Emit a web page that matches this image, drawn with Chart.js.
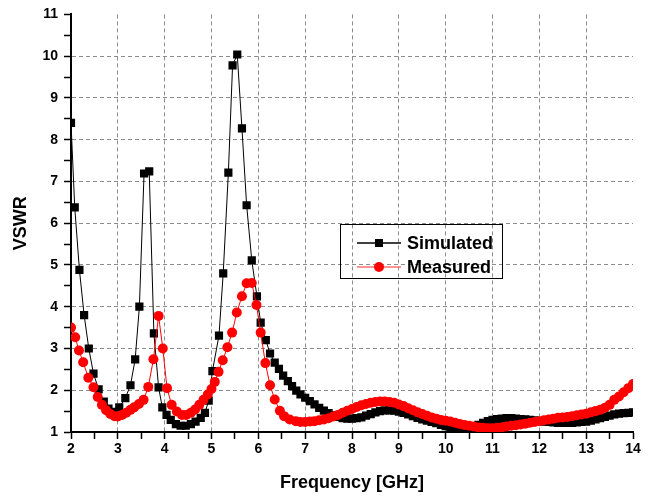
<!DOCTYPE html>
<html>
<head>
<meta charset="utf-8">
<script src="https://cdn.jsdelivr.net/npm/chart.js@4"></script>
<style>
  html, body { margin: 0; padding: 0; background: #fff; }
  #wrap { width: 653px; height: 498px; }
</style>
</head>
<body>
<div id="wrap"><canvas id="ChartVswr" width="653" height="498"></canvas></div>
<script>
// simulated VSWR, frequency in GHz
const simFreq = [2.0, 2.08, 2.18, 2.28, 2.38, 2.48, 2.59, 2.70, 2.80, 2.91, 3.03, 3.16, 3.27, 3.37, 3.46, 3.56, 3.67, 3.77, 3.87, 3.95,
    4.04, 4.13, 4.24, 4.34, 4.45, 4.56, 4.66, 4.77, 4.86, 4.94, 5.02, 5.16, 5.25, 5.36, 5.45, 5.55, 5.65, 5.75, 5.86, 5.97,
    6.05, 6.16, 6.25, 6.35, 6.44, 6.53, 6.63, 6.72, 6.81, 6.90,
    7.0, 7.1, 7.2, 7.3, 7.4, 7.5, 7.6, 7.7, 7.8, 7.9, 8.0, 8.1, 8.2, 8.3, 8.4, 8.5, 8.6, 8.7, 8.8, 8.9,
    9.0, 9.1, 9.2, 9.3, 9.4, 9.5, 9.6, 9.7, 9.8, 9.9, 10.0, 10.1, 10.2, 10.3, 10.4, 10.5, 10.6, 10.7, 10.8, 10.9,
    11.0, 11.1, 11.2, 11.3, 11.4, 11.5, 11.6, 11.7, 11.8, 11.9, 12.0, 12.1, 12.2, 12.3, 12.4, 12.5, 12.6, 12.7, 12.8, 12.9,
    13.0, 13.1, 13.2, 13.3, 13.4, 13.5, 13.6, 13.7, 13.8, 13.9, 14.0];
const simVswr = [8.40, 6.38, 4.88, 3.80, 3.00, 2.40, 2.02, 1.73, 1.56, 1.48, 1.59, 1.81, 2.12, 2.74, 4.00, 7.19, 7.24, 3.36, 2.07, 1.59,
    1.41, 1.29, 1.19, 1.15, 1.15, 1.19, 1.25, 1.34, 1.46, 1.75, 2.46, 3.31, 4.80, 7.21, 9.78, 10.04, 8.27, 6.43, 5.11, 4.25,
    3.62, 3.20, 2.88, 2.66, 2.51, 2.35, 2.22, 2.10, 1.99, 1.90,
    1.82, 1.74, 1.66, 1.58, 1.51, 1.45, 1.40, 1.36, 1.33, 1.32, 1.32, 1.33, 1.35, 1.39, 1.43, 1.47, 1.50, 1.52, 1.52, 1.51,
    1.49, 1.46, 1.42, 1.38, 1.34, 1.30, 1.27, 1.24, 1.21, 1.17, 1.14, 1.12, 1.10, 1.08, 1.07, 1.08, 1.12, 1.17, 1.22, 1.26,
    1.29, 1.31, 1.32, 1.33, 1.33, 1.32, 1.31, 1.30, 1.29, 1.28, 1.26, 1.25, 1.24, 1.23, 1.22, 1.22, 1.22, 1.22, 1.23, 1.24,
    1.25, 1.27, 1.30, 1.33, 1.36, 1.39, 1.42, 1.44, 1.45, 1.46, 1.47];

// measured VSWR
const measFreq = [2.0, 2.09, 2.17, 2.26, 2.37, 2.48, 2.57, 2.66, 2.75, 2.84, 2.93, 3.0, 3.09, 3.18, 3.27, 3.35, 3.45, 3.55, 3.65, 3.76,
    3.87, 3.96, 4.05, 4.15, 4.26, 4.37, 4.46, 4.56, 4.65, 4.74, 4.83, 4.92, 5.0, 5.07, 5.15, 5.24, 5.34, 5.44, 5.54, 5.65,
    5.75, 5.86, 5.96, 6.05, 6.15, 6.25, 6.35, 6.46, 6.55, 6.67, 6.8, 6.9,
    7.0, 7.1, 7.2, 7.3, 7.4, 7.5, 7.6, 7.7, 7.8, 7.9, 8.0, 8.1, 8.2, 8.3, 8.4, 8.5, 8.6, 8.7, 8.8, 8.9,
    9.0, 9.1, 9.2, 9.3, 9.4, 9.5, 9.6, 9.7, 9.8, 9.9, 10.0, 10.1, 10.2, 10.3, 10.4, 10.5, 10.6, 10.7, 10.8, 10.9,
    11.0, 11.1, 11.2, 11.3, 11.4, 11.5, 11.6, 11.7, 11.8, 11.9, 12.0, 12.1, 12.2, 12.3, 12.4, 12.5, 12.6, 12.7, 12.8, 12.9,
    13.0, 13.1, 13.2, 13.3, 13.4, 13.5, 13.6, 13.7, 13.8, 13.9, 14.0];
const measVswr = [3.50, 3.27, 2.95, 2.67, 2.30, 2.07, 1.84, 1.65, 1.52, 1.43, 1.38, 1.37, 1.41, 1.46, 1.53, 1.59, 1.67, 1.77, 2.08, 2.74,
    3.78, 3.00, 2.05, 1.65, 1.49, 1.41, 1.41, 1.46, 1.54, 1.65, 1.77, 1.90, 2.03, 2.20, 2.44, 2.72, 3.03, 3.38, 3.86, 4.25,
    4.56, 4.57, 4.04, 3.38, 2.65, 2.12, 1.78, 1.51, 1.38, 1.30, 1.26, 1.24,
    1.24, 1.25, 1.26, 1.28, 1.30, 1.33, 1.37, 1.41, 1.46, 1.51, 1.55, 1.60, 1.64, 1.67, 1.70, 1.72, 1.73, 1.73, 1.72, 1.70,
    1.66, 1.62, 1.57, 1.52, 1.47, 1.43, 1.39, 1.35, 1.32, 1.29, 1.27, 1.25, 1.22, 1.19, 1.17, 1.15, 1.13, 1.11, 1.10, 1.09,
    1.09, 1.10, 1.11, 1.13, 1.15, 1.16, 1.18, 1.20, 1.22, 1.24, 1.26, 1.28, 1.30, 1.32, 1.34, 1.35, 1.36, 1.38, 1.40, 1.42,
    1.44, 1.47, 1.50, 1.53, 1.58, 1.65, 1.77, 1.85, 1.95, 2.05, 2.15];

const seriesNames = ["Simulated", "Measured"];
const xRange = [2, 14];
const yRange = [1, 11];

const FONT = "'Liberation Sans', Arial, sans-serif";

function toPoints(xs, ys) {
    let pts = [];
    for (let i = 0; i < xs.length; i++) {
        pts.push({x: xs[i], y: ys[i]});
    }
    return pts;
}

// grid only on inner integer values, ticks on every half step
function gridColor(ctx, range) {
    let v = ctx.tick ? ctx.tick.value : null;
    if (v === null) return 'rgba(0,0,0,0)';
    if (Math.abs(v - Math.round(v)) > 0.01) return 'rgba(0,0,0,0)';
    if (v <= range[0] || v >= range[1]) return 'rgba(0,0,0,0)';
    return '#8c8c8c';
}

function intLabel(value) {
    return Math.abs(value - Math.round(value)) < 0.01 ? String(Math.round(value)) : '';
}

const legendBox = {
    id: 'legendBox',
    afterDraw(chart) {
        const ctx = chart.ctx;
        ctx.save();
        ctx.strokeStyle = '#000';
        ctx.lineWidth = 1;
        ctx.strokeRect(340.5, 224.5, 162, 54);
        const rows = [243, 267];
        chart.data.datasets.forEach((ds, i) => {
            const y = rows[i];
            ctx.strokeStyle = i === 0 ? '#000' : '#ff7070';
            ctx.lineWidth = 1.5;
            ctx.beginPath();
            ctx.moveTo(357, y);
            ctx.lineTo(401, y);
            ctx.stroke();
            ctx.fillStyle = ds.pointBackgroundColor;
            if (i === 0) {
                ctx.fillRect(375, y - 4, 8, 8);
            } else {
                ctx.beginPath();
                ctx.arc(379, y, 5, 0, Math.PI * 2);
                ctx.fill();
            }
            ctx.fillStyle = '#000';
            ctx.font = 'bold 18px ' + FONT;
            ctx.textBaseline = 'middle';
            ctx.textAlign = 'left';
            ctx.fillText(ds.label, 407, y + 1);
        });
        ctx.restore();
    }
};

var myChart = new Chart(document.getElementById('ChartVswr').getContext('2d'), {
    type: 'line',
    data: {
        datasets: [{
            label: seriesNames[0],
            data: toPoints(simFreq, simVswr),
            borderColor: '#000',
            borderWidth: 1,
            pointStyle: 'rect',
            pointRadius: 5.8,
            pointBackgroundColor: '#000',
            pointBorderWidth: 0,
            tension: 0,
            order: 1
        }, {
            label: seriesNames[1],
            data: toPoints(measFreq, measVswr),
            borderColor: '#ff0000',
            borderWidth: 1,
            pointStyle: 'circle',
            pointRadius: 5,
            pointBackgroundColor: '#ff0000',
            pointBorderWidth: 0,
            tension: 0,
            order: 0
        }]
    },
    options: {
        responsive: false,
        animation: false,
        layout: {padding: {top: 14, right: 20, left: 0, bottom: 0}},
        plugins: {legend: {display: false}, tooltip: {enabled: false}},
        scales: {
            x: {
                type: 'linear',
                min: xRange[0],
                max: xRange[1],
                afterFit: scale => { scale.height = 66; },
                ticks: {
                    stepSize: 0.5,
                    autoSkip: false,
                    maxRotation: 0,
                    padding: 2,
                    color: '#000',
                    font: {family: FONT, size: 14, weight: 'bold'},
                    callback: v => intLabel(v)
                },
                grid: {
                    color: ctx => gridColor(ctx, xRange),
                    tickColor: '#000',
                    tickLength: 7,
                    tickWidth: 1.5,
                    lineWidth: 1
                },
                border: {color: '#000', width: 2, dash: [4, 3]},
                title: {
                    display: true,
                    text: 'Frequency [GHz]',
                    color: '#000',
                    font: {family: FONT, size: 18, weight: 'bold'},
                    padding: {top: 0, bottom: 4}
                }
            },
            y: {
                type: 'linear',
                min: yRange[0],
                max: yRange[1],
                afterFit: scale => { scale.width = 71; },
                ticks: {
                    stepSize: 0.5,
                    autoSkip: false,
                    padding: 6,
                    color: '#000',
                    font: {family: FONT, size: 14, weight: 'bold'},
                    callback: v => intLabel(v)
                },
                grid: {
                    color: ctx => gridColor(ctx, yRange),
                    tickColor: '#000',
                    tickLength: 7,
                    tickWidth: 1.5,
                    lineWidth: 1
                },
                border: {color: '#000', width: 2, dash: [4, 3]},
                title: {
                    display: true,
                    text: 'VSWR',
                    color: '#000',
                    font: {family: FONT, size: 18, weight: 'bold'},
                    padding: {top: 10, bottom: 0}
                }
            }
        }
    },
    plugins: [legendBox]
});
</script>
</body>
</html>
